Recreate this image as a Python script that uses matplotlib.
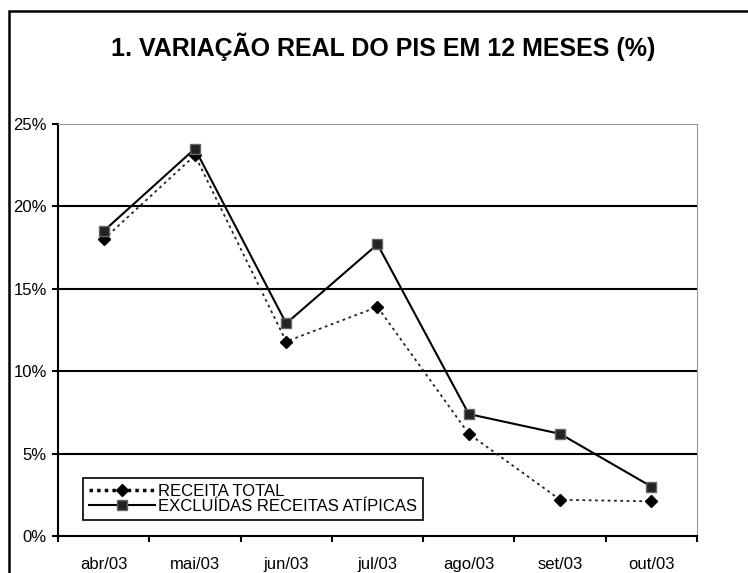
import matplotlib.pyplot as plt
from matplotlib.lines import Line2D
from matplotlib.patches import Rectangle

plt.rcParams['font.family'] = ['Liberation Sans', 'DejaVu Sans']

# data
meses = ['abr/03', 'mai/03', 'jun/03', 'jul/03', 'ago/03', 'set/03', 'out/03']
receita_total = [18.0, 23.1, 11.8, 13.9, 6.2, 2.2, 2.1]
excluidas_atipicas = [18.5, 23.5, 12.9, 17.7, 7.4, 6.2, 3.0]
y_ticks = [0, 5, 10, 15, 20, 25]

fig = plt.figure(figsize=(7.48, 5.73), dpi=100)
ax = fig.add_axes([0.0775, 0.0646, 0.8543, 0.719])

x = list(range(len(meses)))
ax.plot(x, receita_total, color='#222222', linestyle=(0, (1.5, 2)), linewidth=1.3,
        marker='D', markersize=6, markerfacecolor='black', markeredgecolor='black',
        zorder=3)
ax.plot(x, excluidas_atipicas, color='black', linestyle='-', linewidth=1.5,
        marker='s', markersize=7, markerfacecolor='#222222', markeredgecolor='#666666',
        zorder=4)

ax.set_xlim(-0.5, len(meses) - 0.5)
ax.set_ylim(0, 25)
ax.set_yticks(y_ticks)
ax.set_yticklabels([f'{v}%' for v in y_ticks], fontsize=12)

# category labels centred, tick marks on the boundaries
ax.set_xticks([i - 0.5 for i in range(len(meses) + 1)])
ax.set_xticklabels([])
ax.set_xticks(x, minor=True)
ax.set_xticklabels(meses, minor=True, fontsize=12)
ax.tick_params(axis='x', which='minor', length=0, pad=15)
ax.tick_params(axis='x', which='major', length=4, width=1.5, direction='out')
ax.tick_params(axis='y', length=4, width=1.5, direction='out', pad=4)

for v in y_ticks[1:-1]:
    ax.axhline(v, color='black', linewidth=1.5, zorder=1)

ax.spines['left'].set_linewidth(1.5)
ax.spines['bottom'].set_linewidth(1.5)
ax.spines['top'].set_color('#999999')
ax.spines['right'].set_color('#999999')

handles = [
    Line2D([], [], color='black', linestyle=(0, (1, 1.2)), linewidth=2.5,
           marker='D', markersize=6, markerfacecolor='black', markeredgecolor='black'),
    Line2D([], [], color='black', linestyle='-', linewidth=1.5,
           marker='s', markersize=7, markerfacecolor='#222222', markeredgecolor='#666666'),
]
labels = ['RECEITA TOTAL', 'EXCLUÍDAS RECEITAS ATÍPICAS']
leg = ax.legend(handles, labels, loc='lower left', bbox_to_anchor=(0.039, 0.039),
                fontsize=12, frameon=True, fancybox=False, edgecolor='black',
                framealpha=1, handlelength=4.0, handletextpad=0.15,
                labelspacing=0.0, borderpad=0.35, borderaxespad=0)
leg.get_frame().set_linewidth(1.2)

fig.text(0.512, 0.918, '1. VARIAÇÃO REAL DO PIS EM 12 MESES (%)',
         ha='center', va='center', fontsize=18, fontweight='bold')

# outer chart border (runs off the right and bottom edges)
fig.patches.append(Rectangle((9 / 748, -0.05), 1.1, 1 - 11 / 573 + 0.05,
                             transform=fig.transFigure, fill=False,
                             edgecolor='black', linewidth=1.8))

fig.savefig('out.png', dpi=100)
